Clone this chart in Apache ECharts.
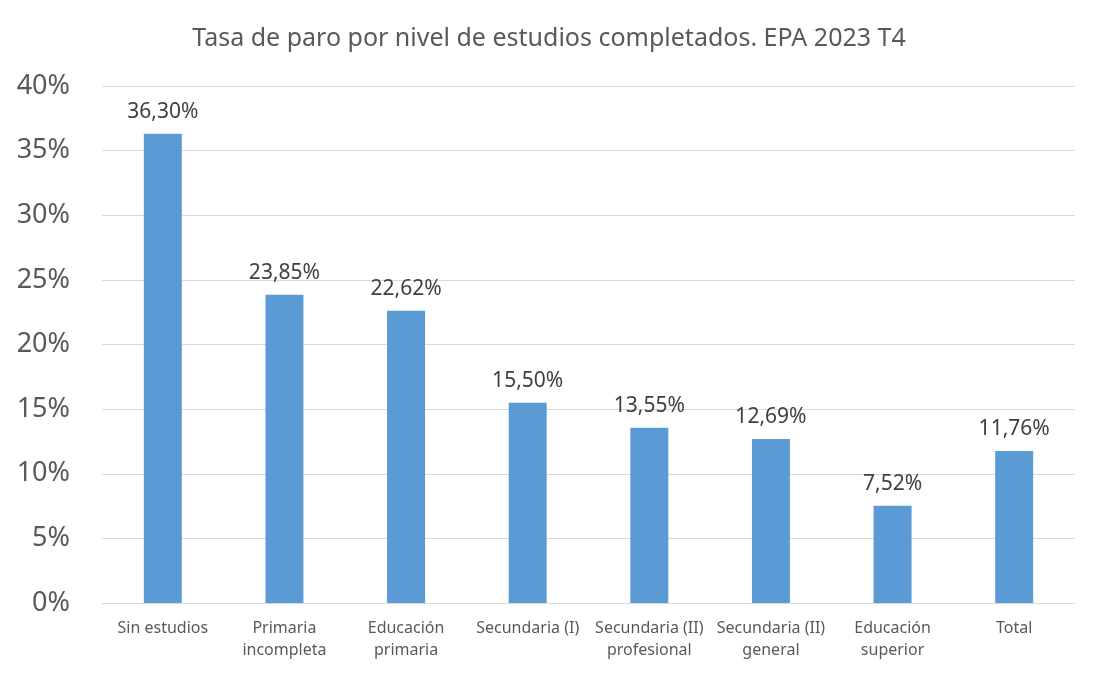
<!DOCTYPE html>
<html>
<head>
<meta charset="utf-8">
<script src="https://cdn.jsdelivr.net/npm/echarts@6/dist/echarts.min.js"></script>
<style>html,body{margin:0;padding:0;background:#fff}#c{width:1098px;height:674px}</style>
</head>
<body>
<div id="c"></div>
<script>
const categories = ["Sin estudios", "Primaria\nincompleta", "Educación\nprimaria", "Secundaria (I)", "Secundaria (II)\nprofesional", "Secundaria (II)\ngeneral", "Educación\nsuperior", "Total"];
const values = [36.30, 23.85, 22.62, 15.50, 13.55, 12.69, 7.52, 11.76];
const yTicks = [0, 5, 10, 15, 20, 25, 30, 35, 40];
const titleText = "Tasa de paro por nivel de estudios completados. EPA 2023 T4";

const FONT = "'Noto Sans', 'Open Sans', sans-serif";
const chart = echarts.init(document.getElementById('c'), null, {renderer: 'canvas'});
chart.setOption({
  animation: false,
  title: {
    text: titleText, left: 'center', top: 21,
    textStyle: {fontFamily: FONT, fontSize: 25, fontWeight: 'normal', color: '#595959'}
  },
  grid: {left: 102, right: 23, top: 86, bottom: 71, containLabel: false},
  xAxis: {
    type: 'category', data: categories,
    axisLine: {lineStyle: {color: '#D9D9D9', width: 1}},
    axisTick: {show: false},
    axisLabel: {fontFamily: FONT, fontSize: 16, color: '#595959', margin: 14, lineHeight: 22, interval: 0}
  },
  yAxis: {
    type: 'value', min: yTicks[0], max: yTicks[yTicks.length - 1], interval: 5,
    axisLine: {show: false}, axisTick: {show: false},
    splitLine: {lineStyle: {color: '#D9D9D9', width: 1}},
    axisLabel: {fontFamily: FONT, fontSize: 27, color: '#595959', margin: 32,
      formatter: v => v + '%'}
  },
  series: [{
    type: 'bar', data: values, barWidth: 38,
    itemStyle: {color: '#5B9BD5'},
    label: {show: true, position: 'top', distance: 11, fontFamily: FONT, fontSize: 21, color: '#404040',
      formatter: p => p.value.toFixed(2).replace('.', ',') + '%'}
  }]
});
</script>
</body>
</html>
